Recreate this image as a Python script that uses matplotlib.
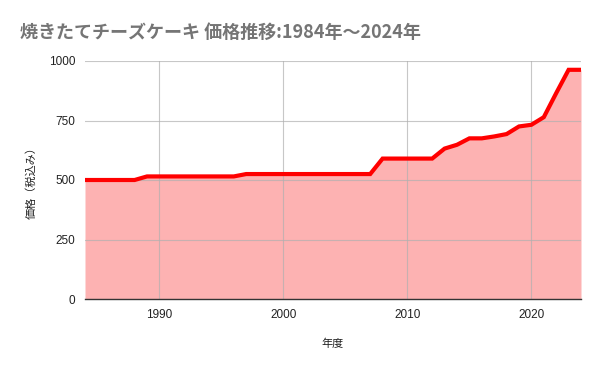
import matplotlib
matplotlib.use("Agg")
import matplotlib.pyplot as plt

plt.rcParams["font.family"] = ["Noto Sans CJK JP", "DejaVu Sans"]

# ── データ ────────────────────────────────────────────────────────────────
years = list(range(1984, 2025))
prices = (
    [500] * 5            # 1984-1988
    + [515] * 8          # 1989-1996
    + [525] * 11         # 1997-2007
    + [590] * 5          # 2008-2012
    + [632, 648, 675, 675, 683, 693, 725, 732, 764, 865, 963, 963]  # 2013-2024
)
x_ticks = [1990, 2000, 2010, 2020]
y_ticks = [0, 250, 500, 750, 1000]

title = "焼きたてチーズケーキ 価格推移:1984年～2024年"
x_label = "年度"
y_label = "価格（税込み）"

# ── グラフ ────────────────────────────────────────────────────────────────
fig = plt.figure(figsize=(6, 3.71), dpi=100)
ax = fig.add_axes([85 / 600, 1 - 299 / 371, 496 / 600, 238 / 371])

ax.fill_between(years, prices, 0, color="#fdb2b2", linewidth=0, zorder=1)
ax.plot(years, prices, color="#ff0000", linewidth=3, solid_joinstyle="miter",
        zorder=3)

ax.set_xlim(1984, 2024)
ax.set_ylim(0, 1000)
ax.set_xticks(x_ticks)
ax.set_yticks(y_ticks)
ax.tick_params(axis="both", length=0, labelsize=8.5, colors="#222222")
ax.tick_params(axis="x", pad=7)
ax.tick_params(axis="y", pad=7)
for lbl in ax.get_xticklabels() + ax.get_yticklabels():
    lbl.set_family(["Liberation Sans", "DejaVu Sans"])

ax.grid(True, color="#b0b0b0", linewidth=0.8, alpha=0.7, zorder=2)
ax.set_axisbelow(False)
for side in ["top", "right", "left"]:
    ax.spines[side].set_visible(False)
ax.spines["bottom"].set_color("#333333")
ax.spines["bottom"].set_linewidth(1)
ax.spines["bottom"].set_zorder(4)

ax.set_xlabel(x_label, fontsize=8, color="#222222", labelpad=13)
ax.set_ylabel(y_label, fontsize=8, color="#222222", labelpad=9)

fig.text(20 / 600, 1 - 32 / 371, title, fontsize=13, fontweight="bold",
         color="#757575", va="center", ha="left")

plt.savefig("out.png", dpi=100)
